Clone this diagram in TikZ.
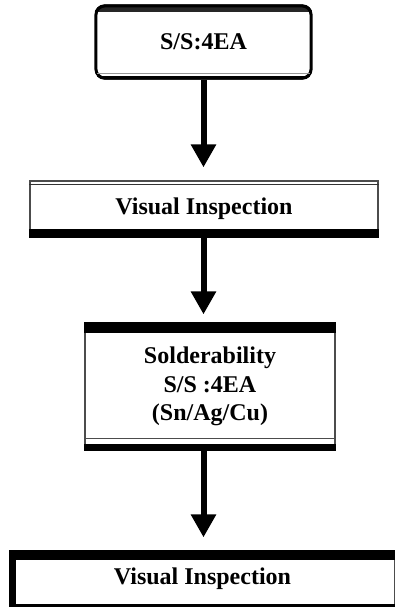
\documentclass[tikz,border=0pt]{standalone}
\usepackage{fontspec}
\setmainfont{Liberation Serif}
\usetikzlibrary{arrows.meta}
\begin{document}
\begin{tikzpicture}[x=1pt,y=1pt,
  boxstyle/.style={draw=black!70,line width=1.2pt,fill=white,inner sep=0pt,align=center,
    font=\fontsize{24}{28.5}\selectfont\bfseries},
  band/.style={fill=black},
  arr/.style={line width=6pt,-{Triangle[width=24pt,length=23pt]}}]
\useasboundingbox (0,0) rectangle (395,-607);
% box 1
\node[boxstyle,draw=none,rounded corners=10pt,minimum width=217pt,minimum height=74pt] (b1) at (203.5,-42) {S/S:4EA};
\begin{scope}
\clip[rounded corners=10pt] (b1.north west) rectangle (b1.south east);
\fill[black!85] (b1.north west) rectangle ([yshift=-8pt]b1.north east);
\fill[black] (b1.south west) rectangle ([yshift=4pt]b1.south east);
\end{scope}
\draw[black,line width=3pt,rounded corners=9pt] ([shift={(1.5pt,-1.5pt)}]b1.north west) rectangle ([shift={(-1.5pt,1.5pt)}]b1.south east);
\draw[black!40,line width=1.2pt] ([yshift=6pt,xshift=3pt]b1.south west) -- ([yshift=6pt,xshift=-3pt]b1.south east);
% box 2
\node[boxstyle,minimum width=348pt,minimum height=56pt] (b2) at (204,-209) {Visual Inspection};
\draw[black!80,line width=1.5pt] ([yshift=-4pt]b2.north west) -- ([yshift=-4pt]b2.north east);
\fill[band] (b2.south west) rectangle ([yshift=9pt]b2.south east);
% box 3
\node[boxstyle,minimum width=250pt,minimum height=127pt] (b3) at (210,-386.5) {Solderability\\S/S :4EA\\(Sn/Ag/Cu)};
\fill[band] (b3.north west) rectangle ([yshift=-11pt]b3.north east);
\fill[band] (b3.south west) rectangle ([yshift=7pt]b3.south east);
\draw[black!70,line width=1.2pt] ([yshift=12pt]b3.south west) -- ([yshift=12pt]b3.south east);
% box 4
\node[boxstyle,minimum width=385pt,minimum height=55pt] (b4) at (202.5,-578.5) {Visual Inspection};
\fill[band] (b4.north west) rectangle ([yshift=-10pt]b4.north east);
\fill[band] (b4.north west) rectangle ([xshift=7pt]b4.south west);
\fill[band] (b4.south west) rectangle ([yshift=3pt]b4.south east);
% arrows
\draw[arr,shorten >=13pt] (b1.south) -- (b2.north -| b1.south);
\draw[arr,shorten >=8pt] (b2.south -| b1.south) -- (b3.north -| b1.south);
\draw[arr,shorten >=13pt] (b3.south -| b1.south) -- (b4.north -| b1.south);
\end{tikzpicture}
\end{document}
